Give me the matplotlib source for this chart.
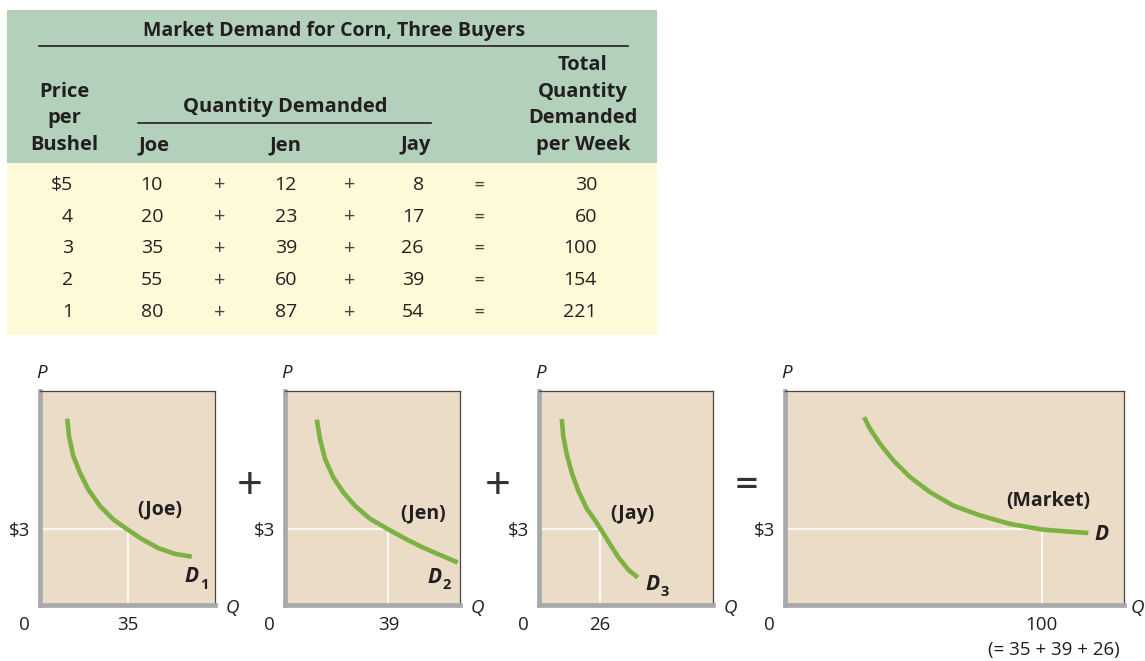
import numpy as np
import matplotlib.pyplot as plt

plt.rcParams['font.family'] = ['Open Sans', 'DejaVu Sans']

# dati della tabella
prezzi = ['$5', '4', '3', '2', '1']
joe = [10, 20, 35, 55, 80]
jen = [12, 23, 39, 60, 87]
jay = [8, 17, 26, 39, 54]
totale = [30, 60, 100, 154, 221]

joe_q = [10.9, 11.6, 13.3, 16.0, 19.3, 24.0, 29.3, 35.0, 40.7, 47.3, 54.0, 60.7]
joe_p = [7.40, 6.71, 5.92, 5.25, 4.59, 3.93, 3.40, 3.00, 2.62, 2.26, 2.03, 1.92]
jen_q = [12.0, 13.2, 15.1, 18.2, 22.0, 26.4, 32.0, 39.0, 45.6, 51.9, 58.2, 65.1]
jen_p = [7.36, 6.59, 5.80, 5.07, 4.47, 3.94, 3.43, 3.00, 2.62, 2.29, 2.00, 1.69]
jay_q = [9.7, 10.3, 11.8, 13.9, 16.7, 20.3, 23.8, 26.0, 29.5, 33.7, 38.0, 42.0]
jay_p = [7.39, 6.72, 5.99, 5.26, 4.54, 3.83, 3.37, 3.05, 2.52, 1.90, 1.40, 1.09]
mkt_q = [30.8, 33.1, 37.0, 42.2, 48.7, 56.5, 65.5, 75.9, 87.6, 100.0, 109.7, 118.1]
mkt_p = [7.46, 7.00, 6.40, 5.74, 5.08, 4.48, 3.95, 3.56, 3.22, 3.00, 2.92, 2.86]

W, H = 1145, 661
scuro = '#231f20'
verde_tab = '#b3d1ba'
giallo_tab = '#fef9d6'
sfondo = '#eadcc7'
verde = '#7db143'
grigio = '#a7a9ac'

fig = plt.figure(figsize=(W / 100, H / 100), dpi=100)
ax0 = fig.add_axes([0, 0, 1, 1])
ax0.set_xlim(0, W)
ax0.set_ylim(H, 0)
ax0.axis('off')

# ---- tabella ----
ax0.add_patch(plt.Rectangle((7, 10), 650, 153, color=verde_tab, lw=0))
ax0.add_patch(plt.Rectangle((7, 163), 650, 172, color=giallo_tab, lw=0))

def t(x, y, s, **kw):
    kw.setdefault('va', 'center')
    kw.setdefault('ha', 'center')
    kw.setdefault('color', scuro)
    ax0.text(x, y, s, **kw)

t(334, 31, 'Market Demand for Corn, Three Buyers', fontsize=14, fontweight='bold')
ax0.plot([39, 628], [46, 46], color=scuro, lw=1.2)
for yy, s in zip([92, 118, 145], ['Price', 'per', 'Bushel']):
    t(64, yy, s, fontsize=14.5, fontweight='bold')
for yy, s in zip([65, 92, 118, 145], ['Total', 'Quantity', 'Demanded', 'per Week']):
    t(583, yy, s, fontsize=14.5, fontweight='bold')
t(285, 107, 'Quantity Demanded', fontsize=14.5, fontweight='bold')
ax0.plot([138, 431], [123, 123], color=scuro, lw=1.2)
t(138, 145, 'Joe', fontsize=14.5, fontweight='bold', ha='left')
t(285, 145, 'Jen', fontsize=14.5, fontweight='bold')
t(431, 145, 'Jay', fontsize=14.5, fontweight='bold', ha='right')

righe_y = [185, 217, 248, 280, 312]
for i, yy in enumerate(righe_y):
    t(73, yy, prezzi[i], fontsize=14, ha='right')
    t(163, yy, str(joe[i]), fontsize=14, ha='right')
    t(220, yy, '+', fontsize=14, family='Lato', color='#444444')
    t(297, yy, str(jen[i]), fontsize=14, ha='right')
    t(350, yy, '+', fontsize=14, family='Lato', color='#444444')
    t(424, yy, str(jay[i]), fontsize=14, ha='right')
    t(479, yy, '=', fontsize=14, family='Lato', color='#444444')
    t(597, yy, str(totale[i]), fontsize=14, ha='right')

# segni tra i grafici
t(250, 485, '+', fontsize=32, family='Lato', color='#333333')
t(498, 485, '+', fontsize=32, family='Lato', color='#333333')
t(747, 485, '=', fontsize=32, family='Lato', color='#333333')

# ---- grafici ----
pannelli = [
    (40, 215, 70, joe_q, joe_p, joe[2], '(Joe)', (47.8, 3.78), (60.8, 1.13), '1'),
    (285, 460, 66, jen_q, jen_p, jen[2], '(Jen)', (51.9, 3.62), (56.4, 1.11), '2'),
    (539, 713, 74, jay_q, jay_p, jay[2], '(Jay)', (39.6, 3.60), (48.3, 0.83), '3'),
    (785, 1124, 132, mkt_q, mkt_p, totale[2], '(Market)', (102.4, 4.14), (123.3, 2.82), ''),
]

for x0, x1, xmax, qq, pp, q3, nome, pos_nome, pos_d, sub in pannelli:
    ax = fig.add_axes([x0 / W, (H - 605) / H, (x1 - x0) / W, 214 / H])
    ax.set_facecolor(sfondo)
    ax.set_xlim(0, xmax)
    ax.set_ylim(0, 8.5)
    for s in ['left', 'bottom']:
        ax.spines[s].set_color(grigio)
        ax.spines[s].set_linewidth(3.4)
    for s in ['top', 'right']:
        ax.spines[s].set_color('#4d4540')
        ax.spines[s].set_linewidth(0.9)
    ax.plot([0, q3, q3], [3, 3, 0], color='white', lw=1.2)
    ax.plot(qq, pp, color=verde, lw=3.3, solid_capstyle='butt', solid_joinstyle='round')
    ax.set_xticks([q3], [str(q3)])
    ax.set_yticks([3], ['$3'])
    ax.tick_params(length=0, labelsize=13.5, labelcolor=scuro)
    ax.tick_params(axis='x', pad=8)
    ax.tick_params(axis='y', pad=7)
    ax.annotate('0', xy=(0, 0), xycoords='axes fraction', xytext=(-16, -20),
                textcoords='offset pixels', ha='center', va='center', fontsize=13.5, color=scuro)
    ax.annotate('P', xy=(0, 1), xycoords='axes fraction', xytext=(2, 18),
                textcoords='offset pixels', ha='center', va='center', fontsize=13.5,
                style='italic', color=scuro)
    dq = 13 if nome == '(Market)' else 17
    ax.annotate('Q', xy=(1, 0), xycoords='axes fraction', xytext=(dq, -3),
                textcoords='offset pixels', ha='center', va='center', fontsize=13.5,
                style='italic', color=scuro)
    ax.text(pos_nome[0], pos_nome[1], nome, ha='center', va='center', fontsize=14,
            fontweight='bold', color=scuro)
    ax.text(pos_d[0], pos_d[1], 'D', ha='center', va='center', fontsize=15,
            fontweight='bold', style='italic', color=scuro)
    if sub:
        ax.annotate(sub, xy=pos_d, xytext=(12, -8), textcoords='offset pixels',
                    ha='center', va='center', fontsize=10.5, fontweight='bold', color=scuro)
    if nome == '(Market)':
        ax.annotate('(= 35 + 39 + 26)', xy=(q3, 0), xytext=(12, -45),
                    textcoords='offset pixels', ha='center', va='center', fontsize=13.5,
                    color=scuro, annotation_clip=False)

fig.savefig('out.png', dpi=100)
